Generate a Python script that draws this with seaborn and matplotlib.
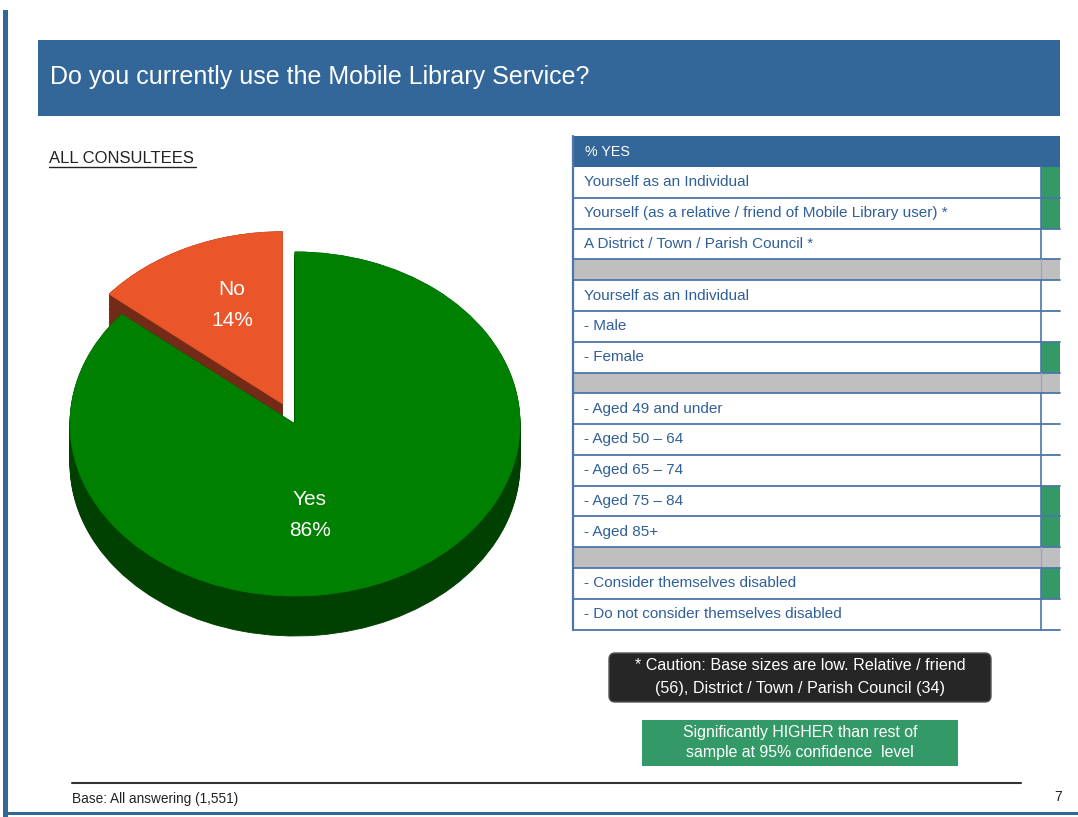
import numpy as np
import matplotlib
matplotlib.use("Agg")
import matplotlib.pyplot as plt
from matplotlib.patches import Rectangle, FancyBboxPatch
import seaborn as sns

sns.set_theme(style="white")
plt.rcParams["font.family"] = ["Liberation Sans", "DejaVu Sans"]

# ---- data -------------------------------------------------------------
answers = ["Yes", "No"]
shares = [86, 14]

row_labels = [
    "Yourself as an Individual",
    "Yourself (as a relative / friend of Mobile Library user) *",
    "A District / Town / Parish Council *",
    None,
    "Yourself as an Individual",
    "- Male",
    "- Female",
    None,
    "- Aged 49 and under",
    "- Aged 50 \u2013 64",
    "- Aged 65 \u2013 74",
    "- Aged 75 \u2013 84",
    "- Aged 85+",
    None,
    "- Consider themselves disabled",
    "- Do not consider themselves disabled",
]
significant = [True, True, False, None, False, False, True, None,
               False, False, False, True, True, None, True, False]

# ---- colours ----------------------------------------------------------
BLUE = "#336699"
TXT_BLUE = "#2F5F98"
LINE_BLUE = "#4C75AA"
SIG_GREEN = "#339966"
SEP_GRAY = "#BFBFBF"
YES_TOP, YES_SIDE = "#008000", "#004000"
NO_TOP, NO_SIDE = "#EA562A", "#732A16"

W, H = 1078, 817
fig = plt.figure(figsize=(W / 100, H / 100), dpi=100)
fig.patch.set_facecolor("white")

# page canvas in pixel units
bg = fig.add_axes([0, 0, 1, 1])
bg.set_xlim(0, W)
bg.set_ylim(H, 0)
bg.axis("off")

# slide frame
bg.add_patch(Rectangle((3, 10), 5, 807, color=BLUE, lw=0))
bg.add_patch(Rectangle((3, 812), W, 3, color=BLUE, lw=0))

# title bar
bg.add_patch(Rectangle((38, 40), 1022, 76, color=BLUE, lw=0))
bg.text(50, 77, "Do you currently use the Mobile Library Service?", color="white",
        fontsize=18, va="center", ha="left")

# sub heading
bg.text(49, 158, "ALL CONSULTEES", color="#222222", fontsize=12,
        va="center", ha="left")
bg.plot([49, 196], [167, 167], color="#222222", lw=1)

# ---- table ------------------------------------------------------------
tx0, tdiv, tx1 = 573, 1041, 1060
y = 136
hdr_h, row_h, sep_h = 31, 30.8, 20.7
bg.add_patch(Rectangle((tx0, y), tx1 - tx0, hdr_h, color=BLUE, lw=0))
bg.text(585, y + hdr_h / 2, "% YES", color="white", fontsize=10.3, va="center")
y += hdr_h
for lab, sig in zip(row_labels, significant):
    if lab is None:
        bg.add_patch(Rectangle((tx0, y), tx1 - tx0, sep_h, color=SEP_GRAY, lw=0))
        bg.plot([tdiv, tdiv], [y, y + sep_h], color="#9AA9BE", lw=1)
        bg.plot([tx0, tx1], [y + sep_h, y + sep_h], color=LINE_BLUE, lw=1.3)
        y += sep_h
        continue
    if sig:
        bg.add_patch(Rectangle((tdiv, y), tx1 - tdiv, row_h, color=SIG_GREEN, lw=0))
    bg.text(584, y + row_h / 2, lab, color=TXT_BLUE, fontsize=11, va="center")
    bg.plot([tdiv, tdiv], [y, y + row_h], color=LINE_BLUE, lw=1.2)
    bg.plot([tx0, tx1], [y + row_h, y + row_h], color=LINE_BLUE, lw=1.3)
    y += row_h
bg.plot([tx0, tx0], [136, y], color=LINE_BLUE, lw=1.6)

# caution and key boxes
bg.add_patch(FancyBboxPatch((609, 653), 382, 49, boxstyle="round,pad=0,rounding_size=6",
                            fc="#262626", ec="#555555", lw=1))
bg.text(800, 665, "* Caution: Base sizes are low. Relative / friend", color="white",
        fontsize=11.6, ha="center", va="center")
bg.text(800, 688, "(56), District / Town / Parish Council (34)", color="white",
        fontsize=11.6, ha="center", va="center")
bg.add_patch(Rectangle((642, 720), 316, 46, color=SIG_GREEN, lw=0))
bg.text(800, 733, "Significantly HIGHER than rest of", color="white",
        fontsize=11.4, ha="center", va="center")
bg.text(800, 753, "sample at 95% confidence  level", color="white",
        fontsize=11.4, ha="center", va="center")

# footer
bg.plot([72, 1021], [783, 783], color="#333333", lw=1.5)
bg.text(72, 799, "Base: All answering (1,551)", color="#222222", fontsize=9.8,
        va="center")
bg.text(1058, 797, "7", color="#222222", fontsize=10, va="center", ha="center")

# ---- 3-D style pie ----------------------------------------------------
cx, cy, rx, ry = 295, 424, 225, 172          # pixel centre and radii
box_l, box_r, box_t, box_b = 45, 545, 200, 660
pax = fig.add_axes([box_l / W, (H - box_b) / H, (box_r - box_l) / W, (box_b - box_t) / H])
pax.set_zorder(2)
pax.patch.set_alpha(0)

explode = [0, 0.13]
depth = 40 / ry
layers = np.linspace(depth, 0, 32)

def draw(center, colors, z_yes, z_no):
    wedges, _ = pax.pie(shares, colors=colors, startangle=90, counterclock=False,
                        explode=explode, center=center,
                        wedgeprops=dict(linewidth=0.6, antialiased=True))
    for w, c, z in zip(wedges, colors, (z_yes, z_no)):
        w.set_edgecolor(c)
        w.set_zorder(z)
    return wedges

for dz in layers:
    draw((0, -dz), [YES_SIDE, NO_SIDE], 3, 1)
draw((0, 0), [YES_TOP, NO_TOP], 4, 2)

pax.set_aspect("auto")
pax.set_xlim(-(cx - box_l) / rx, (box_r - cx) / rx)
pax.set_ylim(-(box_b - cy) / ry, (cy - box_t) / ry)
pax.axis("off")

# slice labels
no_pos = (-(cx - 232) / rx, (cy - 305) / ry)
yes_pos = ((310 - cx) / rx, (cy - 515) / ry)
for name, val, pos in zip(answers, shares, [yes_pos, no_pos]):
    pax.text(pos[0], pos[1], f"{name}\n{val}%", color="white", fontsize=15,
             ha="center", va="center", linespacing=1.8, zorder=10)

fig.savefig("out.png", dpi=100, facecolor="white")
